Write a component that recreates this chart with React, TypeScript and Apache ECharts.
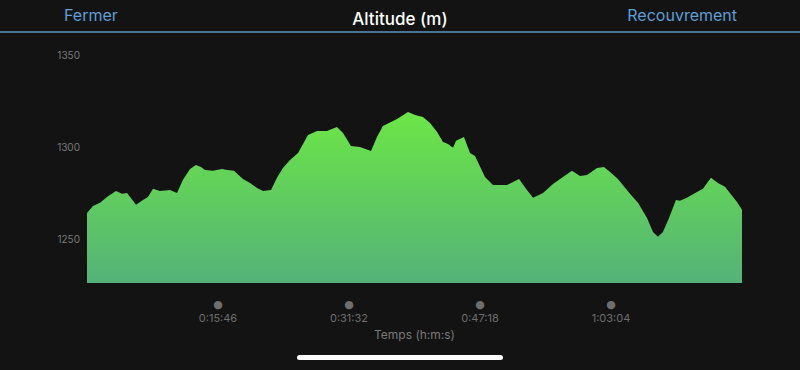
import React, { useEffect, useRef } from "react";
import * as echarts from "echarts";

// elapsed time (s)
const times: number[] = [
  0, 43, 94, 144, 209, 253, 289, 354, 404, 440, 477, 527, 599, 650, 693, 744, 787, 823, 852, 910,
  975, 1011, 1061, 1126, 1177, 1228, 1271, 1329, 1372, 1415, 1466, 1524, 1596, 1661, 1733, 1805,
  1849, 1906, 1971, 2051, 2094, 2137, 2239, 2318, 2369, 2426, 2477, 2527, 2571, 2607, 2643, 2665,
  2722, 2766, 2802, 2874, 2932, 3033, 3120, 3177, 3221, 3293, 3365, 3437, 3502, 3560, 3611, 3683,
  3733, 3777, 3834, 3921, 3979, 4044, 4087, 4123, 4159, 4203, 4253, 4282, 4332, 4405, 4448, 4506,
  4556, 4607, 4658, 4694, 4730,
];

// altitude (m)
const altitudes: number[] = [
  1264.1, 1267.9, 1269.6, 1272.8, 1276.1, 1274.5, 1275.0, 1268.5, 1271.2, 1272.8, 1277.2, 1276.1,
  1276.6, 1275.0, 1282.1, 1288.0, 1290.2, 1289.1, 1287.5, 1287.0, 1288.0, 1287.5, 1287.0, 1282.6,
  1280.4, 1277.7, 1276.1, 1276.6, 1283.2, 1288.6, 1292.9, 1296.7, 1306.5, 1308.7, 1308.7, 1310.9,
  1307.6, 1300.5, 1300.0, 1297.8, 1305.4, 1311.4, 1315.2, 1319.0, 1317.4, 1316.3, 1313.0, 1308.2,
  1302.7, 1301.6, 1299.5, 1303.3, 1305.4, 1296.7, 1295.1, 1283.7, 1279.3, 1279.3, 1282.6, 1276.6,
  1272.3, 1275.0, 1279.9, 1283.7, 1287.0, 1284.2, 1284.8, 1288.6, 1289.1, 1286.4, 1282.6, 1274.5,
  1269.6, 1261.4, 1253.8, 1251.1, 1253.8, 1261.4, 1271.2, 1270.7, 1272.3, 1275.5, 1277.2, 1283.2,
  1280.4, 1278.3, 1273.4, 1270.1, 1265.8,
];

const yTicks: number[] = [1250, 1300, 1350];
const xTickInterval = 946;
const xMax = 4730;
const yMin = 1226;
const yMax = 1350;

function fmtTime(s: number): string {
  const h = Math.floor(s / 3600);
  const m = Math.floor((s % 3600) / 60);
  const sec = Math.round(s % 60);
  return `${h}:${String(m).padStart(2, "0")}:${String(sec).padStart(2, "0")}`;
}

const FONT = "Inter, 'Open Sans', Roboto, sans-serif";

export default function App() {
  const ref = useRef<HTMLDivElement>(null);
  useEffect(() => {
    document.body.style.margin = "0";
    const chart = echarts.init(ref.current!, null, { renderer: "svg" });
    chart.setOption({
      animation: false,
      backgroundColor: "#131313",
      title: {
        text: "Altitude (m)",
        left: "center",
        top: 5,
        textStyle: { color: "#ffffff", fontSize: 17, fontWeight: 500, fontFamily: FONT },
      },
      grid: { left: 87, right: 58, top: 55, bottom: 87 },
      xAxis: {
        type: "value",
        min: 0,
        max: xMax,
        interval: xTickInterval,
        axisLine: { show: false },
        axisTick: { show: false },
        splitLine: { show: false },
        name: "Temps (h:m:s)",
        nameLocation: "middle",
        nameGap: 43,
        nameTextStyle: { color: "#7a7a7a", fontSize: 12, fontFamily: FONT },
        axisLabel: {
          showMinLabel: false,
          showMaxLabel: false,
          margin: 14,
          formatter: (v: number) => `{d|●}\n{t|${fmtTime(v)}}`,
          rich: {
            d: { color: "#6e6e6e", fontSize: 11, lineHeight: 14, fontFamily: "DejaVu Sans" },
            t: { color: "#6e6e6e", fontSize: 11, lineHeight: 14, fontFamily: FONT },
          },
        },
      },
      yAxis: {
        type: "value",
        min: yMin,
        max: yMax,
        axisLine: { show: false },
        axisTick: { show: false },
        splitLine: { show: false },
        axisLabel: {
          customValues: yTicks,
          formatter: (v: number) => String(v),
          color: "#7a7a7a",
          fontSize: 10,
          margin: 7,
          fontFamily: FONT,
        },
      },
      series: [
        {
          type: "line",
          data: times.map((t, i) => [t, altitudes[i]]),
          showSymbol: false,
          lineStyle: { width: 0 },
          areaStyle: {
            origin: "start",
            opacity: 1,
            color: new echarts.graphic.LinearGradient(0, 0, 0, 1, [
              { offset: 0, color: "#6ce646" },
              { offset: 1, color: "#54b279" },
            ]),
          },
        },
      ],
      graphic: [
        {
          type: "text",
          left: 64,
          top: 7,
          style: { text: "Fermer", fill: "#5e9fd6", fontSize: 16, fontFamily: FONT },
        },
        {
          type: "text",
          right: 63,
          top: 7,
          style: { text: "Recouvrement", fill: "#5e9fd6", fontSize: 16, fontFamily: FONT },
        },
        {
          type: "rect",
          left: 0,
          top: 31,
          shape: { x: 0, y: 0, width: 800, height: 2 },
          style: { fill: "#4d7191" },
        },
        {
          type: "rect",
          left: 297,
          top: 355,
          shape: { x: 0, y: 0, width: 206, height: 5, r: 2.5 },
          style: { fill: "#ffffff" },
        },
      ],
    });
    return () => chart.dispose();
  }, []);
  return (
    <div
      ref={ref}
      style={{ position: "fixed", left: 0, top: 0, width: 800, height: 370 }}
    />
  );
}
